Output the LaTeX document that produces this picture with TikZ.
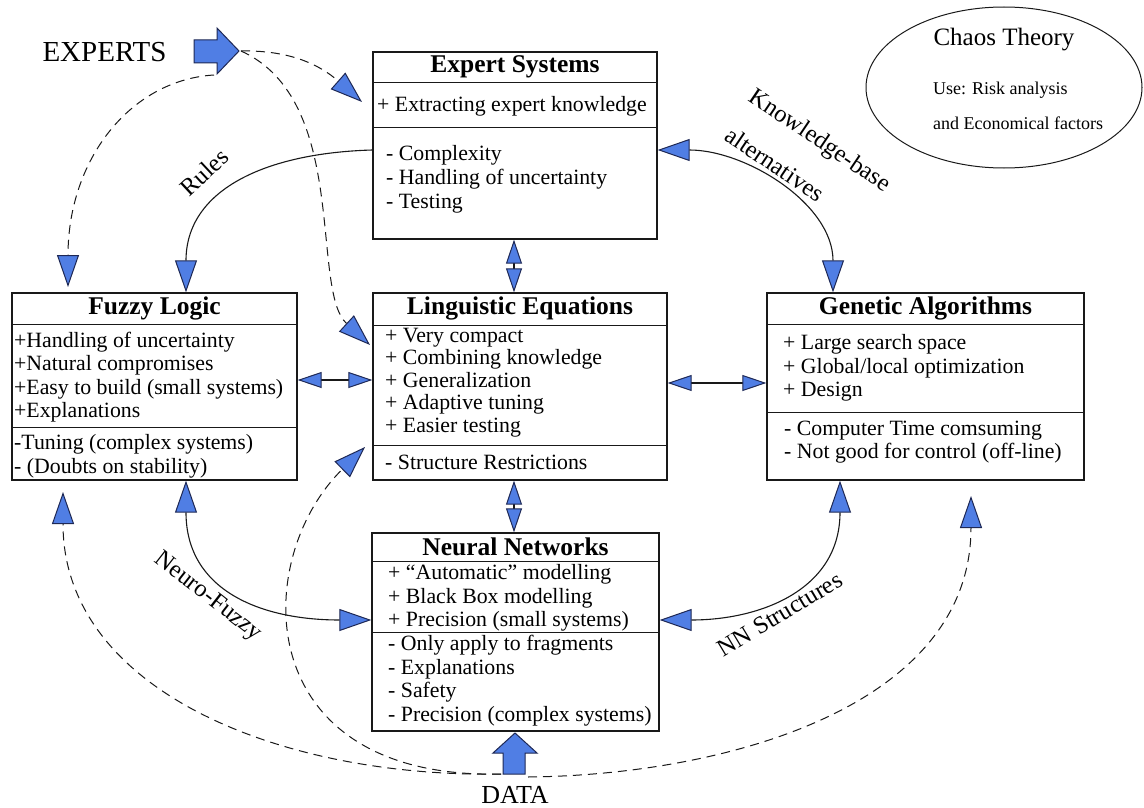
\documentclass[tikz,border=0pt]{standalone}
\usepackage{fontspec}
\setmainfont{Liberation Serif}
\usetikzlibrary{arrows.meta,shapes.geometric}

\definecolor{tipblue}{RGB}{80,126,228}
\definecolor{tipedge}{RGB}{30,40,85}
\definecolor{inkline}{RGB}{25,25,25}

\tikzset{
  bigtip/.tip={Triangle[length=32pt,width=22pt,line width=1pt,color=tipedge,fill=tipblue]},
  smalltip/.tip={Triangle[length=24pt,width=16pt,line width=1pt,color=tipedge,fill=tipblue]},
  panel/.style={draw=inkline, line width=1.3pt, rectangle, inner sep=0pt},
  divider/.style={draw=inkline, line width=1.3pt},
  heading/.style={inner sep=0pt, font=\fontsize{25.5}{27}\selectfont\bfseries},
  items/.style={inner sep=0pt, anchor=west, align=left, font=\fontsize{21.8}{23.5}\selectfont},
  link/.style={draw=inkline, line width=1.1pt},
  hint/.style={draw=inkline, line width=1pt, dash pattern=on 9pt off 6pt},
  tag/.style={inner sep=0pt, font=\fontsize{24.5}{26}\selectfont},
  blockarrow/.style={fill=tipblue, draw=tipedge, line width=1pt},
}

\begin{document}
\begin{tikzpicture}[x=1pt,y=1pt]
\fill[white] (0,0) rectangle (1144,-808);
\useasboundingbox (0,0) rectangle (1144,-808);

% ---- panels -------------------------------------------------------
\node[panel, minimum width=284pt, minimum height=187pt] (es) at (515,-145.5) {};
\node[panel, minimum width=285pt, minimum height=187pt] (fl) at (154.5,-386.5) {};
\node[panel, minimum width=294pt, minimum height=187pt] (le) at (520,-386.5) {};
\node[panel, minimum width=317pt, minimum height=187pt] (ga) at (925.5,-386.5) {};
\node[panel, minimum width=287pt, minimum height=198pt] (nn) at (515.5,-632) {};

% dividers between title, advantages and drawbacks
\draw[divider] ([yshift=-31pt]es.north west) -- ([yshift=-31pt]es.north east);
\draw[divider] ([yshift=-76pt]es.north west) -- ([yshift=-76pt]es.north east);
\draw[divider] ([yshift=-32pt]fl.north west) -- ([yshift=-32pt]fl.north east);
\draw[divider] ([yshift=-135pt]fl.north west) -- ([yshift=-135pt]fl.north east);
\draw[divider] ([yshift=-33pt]le.north west) -- ([yshift=-33pt]le.north east);
\draw[divider] ([yshift=-153pt]le.north west) -- ([yshift=-153pt]le.north east);
\draw[divider] ([yshift=-32pt]ga.north west) -- ([yshift=-32pt]ga.north east);
\draw[divider] ([yshift=-120pt]ga.north west) -- ([yshift=-120pt]ga.north east);
\draw[divider] ([yshift=-29pt]nn.north west) -- ([yshift=-29pt]nn.north east);
\draw[divider] ([yshift=-100pt]nn.north west) -- ([yshift=-100pt]nn.north east);

% ---- panel texts ---------------------------------------------------
\node[heading] (es-t) at (515,-67) {Expert Systems};
\node[items] (es-p) at (377,-106) {+ Extracting expert knowledge};
\node[items, font=\fontsize{21.8}{24}\selectfont] (es-m) at (386,-179)
  {- Complexity\\- Handling of uncertainty\\- Testing};

\node[heading] (fl-t) at (154.5,-308) {Fuzzy Logic};
\node[items] (fl-p) at (14,-377)
  {+Handling of uncertainty\\+Natural compromises\\+Easy to build (small systems)\\+Explanations};
\node[items] (fl-m) at (14,-456.5) {-Tuning (complex systems)\\- (Doubts on stability)};

\node[heading] (le-t) at (520,-308) {Linguistic Equations};
\node[items, font=\fontsize{21.8}{22.4}\selectfont] (le-p) at (385,-382.5)
  {+ Very compact\\+ Combining knowledge\\+ Generalization\\+ Adaptive tuning\\+ Easier testing};
\node[items] (le-m) at (385,-462) {- Structure Restrictions};

\node[heading] (ga-t) at (925.5,-308) {Genetic Algorithms};
\node[items] (ga-p) at (783,-368) {+ Large search space\\+ Global/local optimization\\+ Design};
\node[items] (ga-m) at (784,-442) {- Computer Time comsuming\\- Not good for control (off-line)};

\node[heading] (nn-t) at (515.5,-547) {Neural Networks};
\node[items] (nn-p) at (388,-598)
  {+ “Automatic” modelling\\+ Black Box modelling\\+ Precision (small systems)};
\node[items] (nn-m) at (388,-680.5)
  {- Only apply to fragments\\- Explanations\\- Safety\\- Precision (complex systems)};

% ---- chaos theory ellipse ------------------------------------------
\node[draw=inkline, line width=1pt, ellipse, inner sep=0pt,
      minimum width=276pt, minimum height=161pt] (chaos) at (1004,-87.5) {};
\node[inner sep=0pt, font=\fontsize{25}{27}\selectfont] (chaos-t) at (1004,-40) {Chaos Theory};
\node[inner sep=0pt, anchor=west, font=\fontsize{18}{20}\selectfont] (chaos-u) at (933,-90) {Use: Risk analysis};
\node[inner sep=0pt, anchor=west, font=\fontsize{18}{20}\selectfont] (chaos-e) at (933,-123) {and Economical factors};

% ---- sources: experts and data -------------------------------------
\node[inner sep=0pt, font=\fontsize{29}{31}\selectfont] (experts) at (104.5,-52) {EXPERTS};
\filldraw[blockarrow] (194,-40) -- (217,-40) -- (217,-28) -- (239,-51)
  -- (217,-74) -- (217,-63) -- (194,-63) -- cycle;
\coordinate (exptip) at (241,-51);
\coordinate (explow) at (214,-75);

\node[inner sep=0pt, font=\fontsize{26}{28}\selectfont] (data) at (515,-795) {DATA};
\filldraw[blockarrow] (503,-774) -- (503,-753) -- (493,-753) -- (515,-733)
  -- (537,-753) -- (525,-753) -- (525,-774) -- cycle;
\coordinate (dataw) at (501,-774);
\coordinate (datae) at (528,-777);

% ends of the dashed feeds
\coordinate (esin)  at (362,-102);
\coordinate (flinA) at (68,-287);
\coordinate (leinA) at (370,-345);
\coordinate (flinB) at (63,-492);
\coordinate (leinB) at (365,-447);
\coordinate (gainB) at (971,-496);

% ---- dashed feeds from experts and data ----------------------------
\draw[hint, -bigtip] (exptip) .. controls (290,-50) and (320,-65) .. (esin);
\draw[hint, -bigtip] (explow) .. controls (130,-80) and (68,-160) .. (flinA);
\draw[hint, -bigtip] (exptip) .. controls (350,-100) and (310,-290) .. (leinA);
\draw[hint, -bigtip] (dataw) .. controls (280,-778) and (63,-690) .. (flinB);
\draw[hint, -bigtip] (dataw) .. controls (250,-780) and (250,-560) .. (leinB);
\draw[hint, -bigtip] (datae) .. controls (725,-775) and (971,-707) .. (gainB);

% ---- solid links between the methods --------------------------------
\draw[link, -bigtip] ([yshift=-4.5pt]es.west) .. controls (265,-153) and (186,-190)
  .. ([xshift=31.5pt]fl.north);
\draw[link, bigtip-bigtip] ([yshift=-4.5pt]es.east) .. controls (746,-150) and (833,-204)
  .. ([xshift=-92.5pt]ga.north);
\draw[link, bigtip-bigtip] ([xshift=31.5pt]fl.south) .. controls (186,-590) and (260,-620)
  .. ([yshift=12pt]nn.west);
\draw[link, bigtip-bigtip] ([xshift=-85.5pt]ga.south) .. controls (840,-590) and (760,-620)
  .. ([yshift=12pt]nn.east);

\draw[link, smalltip-smalltip] ([yshift=6.5pt]fl.east) -- ([yshift=6.5pt]le.west);
\draw[link, smalltip-smalltip] ([yshift=3.5pt]le.east) -- ([yshift=3.5pt]ga.west);
\draw[link, smalltip-smalltip] ([xshift=-1pt]es.south) -- ([xshift=-6pt]le.north);
\draw[link, smalltip-smalltip] ([xshift=-6pt]le.south) -- ([xshift=-1.5pt]nn.north);

% ---- link labels ---------------------------------------------------
\node[tag, rotate=43] (rules) at (204,-172) {Rules};
\node[tag, rotate=-34] (kb1) at (819.5,-141.5) {Knowledge-base};
\node[tag, rotate=-34] (kb2) at (775,-164) {alternatives};
\node[tag, rotate=-38] (neurofuzzy) at (208,-597) {Neuro-Fuzzy};
\node[tag, rotate=31] (nnstruct) at (780,-614) {NN Structures};
\end{tikzpicture}
\end{document}
